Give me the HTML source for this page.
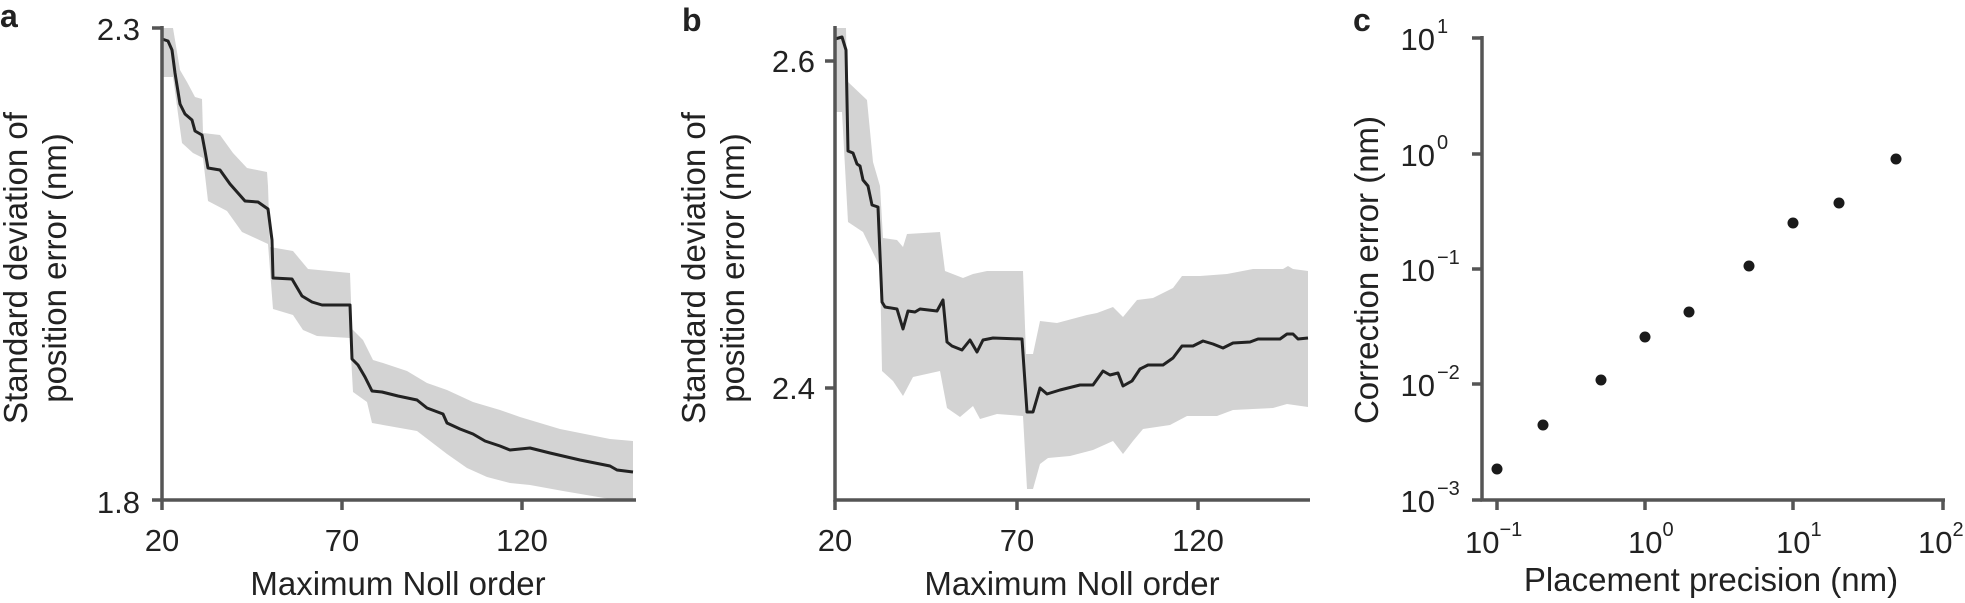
<!DOCTYPE html>
<html><head><meta charset="utf-8"><style>
html,body{margin:0;padding:0;background:#fff;}
svg{display:block;}
text{font-family:"Liberation Sans",Arial,sans-serif;fill:#222;}
</style></head><body>
<svg width="1965" height="603" viewBox="0 0 1965 603" xmlns="http://www.w3.org/2000/svg">
<!-- Panel a -->
<polygon fill="#d3d3d3" points="162,28 173,28 180,70 187,82 195,97 202,99 203,133 220,135 233,153 247,168 267,172 268,186 270,247 293,251 308,269 350,273 352,329 363,340 373,360 383,363 407,371 427,383 447,390 473,402 500,410 520,417 560,429 610,439 633,441 633,501 610,499 563,491 530,485 510,483 487,477 467,468 447,454 417,431 372,423 367,402 353,392 350,338 317,336 303,330 293,315 273,309 268,244 242,232 227,211 208,201 203,158 193,153 182,143 173,77 162,77"/>
<polyline fill="none" stroke="#222" stroke-width="3" stroke-linejoin="round" points="162,39 168,41 172,50 175,73 180,104 185,114 192,120 195,131 202,135 205,151 208,168 220,170 230,184 245,201 258,202 268,209 272,240 273,278 292,279 302,296 312,302 322,305 350,305 352,359 358,365 365,377 372,391 382,392 398,396 417,400 427,408 443,414 447,423 460,429 473,434 485,441 500,446 510,450 530,448 550,453 580,460 610,466 617,470 633,472"/>
<g stroke="#555" stroke-width="3.5" fill="none">
<path d="M162,26 V500 H636"/>
<path d="M152,28 H162 M152,500 H162 M162,500 V510 M342,500 V510 M522,500 V510"/>
</g>
<g font-size="31">
<text x="140" y="40" text-anchor="end">2.3</text>
<text x="140" y="513" text-anchor="end">1.8</text>
<text x="162" y="551" text-anchor="middle">20</text>
<text x="342" y="551" text-anchor="middle">70</text>
<text x="522" y="551" text-anchor="middle">120</text>
</g>
<text x="398" y="595" font-size="33" text-anchor="middle">Maximum Noll order</text>
<text transform="translate(27,268) rotate(-90)" font-size="33" text-anchor="middle">Standard deviation of</text>
<text transform="translate(66,268) rotate(-90)" font-size="33" text-anchor="middle">position error (nm)</text>
<text x="0" y="27" font-size="32" font-weight="bold">a</text>

<!-- Panel b -->
<polygon fill="#d3d3d3" points="835,28 846,28 847,81 867,100 873,162 880,186 883,238 897,240 903,247 907,234 940,232 945,271 963,278 973,274 987,271 1023,271 1026,354 1033,354 1040,321 1057,323 1087,315 1097,313 1113,307 1123,317 1137,300 1153,298 1173,288 1182,276 1200,276 1227,274 1253,269 1283,269 1288,266 1293,269 1308,271 1308,407 1287,404 1273,408 1233,410 1217,416 1187,416 1170,425 1143,429 1133,441 1123,454 1113,441 1093,450 1070,456 1048,458 1040,464 1033,489 1027,489 1023,416 997,414 980,419 973,406 960,417 947,408 940,371 913,377 903,396 893,381 882,371 880,267 863,232 848,222 842,112 835,112"/>
<polyline fill="none" stroke="#222" stroke-width="3" stroke-linejoin="round" points="835,39 842,37 846,50 848,151 853,153 857,164 860,166 863,180 868,186 872,205 878,207 882,302 885,307 897,309 903,329 908,311 915,312 920,309 937,311 943,300 947,342 952,346 962,350 970,340 977,352 983,340 993,338 1022,339 1027,412 1033,412 1040,388 1047,394 1060,390 1080,385 1093,385 1103,371 1110,375 1118,373 1123,386 1132,381 1140,369 1148,365 1163,365 1173,358 1182,346 1193,346 1203,341 1213,344 1223,348 1233,343 1250,342 1258,339 1280,339 1287,334 1293,334 1298,339 1308,338"/>
<g stroke="#555" stroke-width="3.5" fill="none">
<path d="M835,26 V500 H1310"/>
<path d="M825,61 H835 M825,388 H835 M835,500 V510 M1017,500 V510 M1198,500 V510"/>
</g>
<g font-size="31">
<text x="815" y="72" text-anchor="end">2.6</text>
<text x="815" y="399" text-anchor="end">2.4</text>
<text x="835" y="551" text-anchor="middle">20</text>
<text x="1017" y="551" text-anchor="middle">70</text>
<text x="1198" y="551" text-anchor="middle">120</text>
</g>
<text x="1072" y="595" font-size="33" text-anchor="middle">Maximum Noll order</text>
<text transform="translate(705,268) rotate(-90)" font-size="33" text-anchor="middle">Standard deviation of</text>
<text transform="translate(744,268) rotate(-90)" font-size="33" text-anchor="middle">position error (nm)</text>
<text x="682" y="31" font-size="32" font-weight="bold">b</text>

<!-- Panel c -->
<g stroke="#555" stroke-width="3.5" fill="none">
<path d="M1482,36 V500 H1945"/>
<path d="M1472,38 H1482 M1472,154 H1482 M1472,269 H1482 M1472,384 H1482 M1472,500 H1482"/>
<path d="M1497,500 V510 M1645,500 V510 M1793,500 V510 M1943,500 V510"/>
</g>
<g fill="#1a1a1a">
<circle cx="1497" cy="469" r="5.5"/>
<circle cx="1543" cy="425" r="5.5"/>
<circle cx="1601" cy="380" r="5.5"/>
<circle cx="1645" cy="337" r="5.5"/>
<circle cx="1689" cy="312" r="5.5"/>
<circle cx="1749" cy="266" r="5.5"/>
<circle cx="1793" cy="223" r="5.5"/>
<circle cx="1839" cy="203" r="5.5"/>
<circle cx="1896" cy="159" r="5.5"/>
</g>
<g font-size="31">
<text x="1435" y="50" text-anchor="end">10</text><text x="1437" y="33" font-size="20">1</text>
<text x="1435" y="166" text-anchor="end">10</text><text x="1437" y="149" font-size="20">0</text>
<text x="1435" y="281" text-anchor="end">10</text><text x="1437" y="264" font-size="20">−1</text>
<text x="1435" y="396" text-anchor="end">10</text><text x="1437" y="379" font-size="20">−2</text>
<text x="1435" y="512" text-anchor="end">10</text><text x="1437" y="495" font-size="20">−3</text>
</g>
<g font-size="31">
<text x="1465" y="553">10<tspan font-size="20" dy="-17">−1</tspan></text>
<text x="1628" y="553">10<tspan font-size="20" dy="-17">0</tspan></text>
<text x="1776" y="553">10<tspan font-size="20" dy="-17">1</tspan></text>
<text x="1918" y="553">10<tspan font-size="20" dy="-17">2</tspan></text>
</g>
<text x="1711" y="591" font-size="33" text-anchor="middle">Placement precision (nm)</text>
<text transform="translate(1378,270) rotate(-90)" font-size="33" text-anchor="middle">Correction error (nm)</text>
<text x="1353" y="31" font-size="32" font-weight="bold">c</text>
</svg>
</body></html>
